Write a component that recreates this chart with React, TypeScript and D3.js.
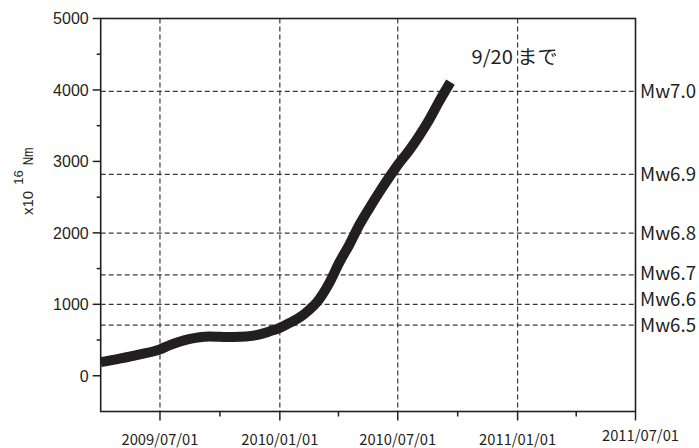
import React from "react";
import * as d3 from "d3";

// ---- data ----
const dates = [
  "2009-04-01", "2009-04-30", "2009-05-31", "2009-07-01", "2009-07-16", "2009-08-01",
  "2009-08-16", "2009-08-31", "2009-09-15", "2009-10-01", "2009-10-16", "2009-10-31",
  "2009-11-16", "2009-12-01", "2009-12-16", "2010-01-01", "2010-01-16", "2010-02-01",
  "2010-02-16", "2010-02-27", "2010-03-18", "2010-04-02", "2010-04-18", "2010-05-03",
  "2010-05-18", "2010-06-02", "2010-06-18", "2010-07-01", "2010-07-19", "2010-08-03",
  "2010-08-18", "2010-09-02", "2010-09-20",
];
const moment = [
  190, 240, 300, 370, 430, 480,
  515, 540, 548, 545, 542, 545,
  555, 580, 620, 670, 740, 820,
  930, 1030, 1300, 1580, 1840, 2110,
  2340, 2560, 2780, 2950, 3160, 3360,
  3580, 3830, 4110,
];
const xTickDates = ["2009-07-01", "2010-01-01", "2010-07-01", "2011-01-01", "2011-07-01"];
const xTickLabels = ["2009/07/01", "2010/01/01", "2010/07/01", "2011/01/01", "2011/07/01"];
const xMinorDates = ["2009-10-01", "2010-04-01", "2010-10-01", "2011-04-01"];
const yTicks = [0, 1000, 2000, 3000, 4000, 5000];
const yMinor = [500, 1500, 2500, 3500, 4500];
const mwLabels = ["Mw7.0", "Mw6.9", "Mw6.8", "Mw6.7", "Mw6.6", "Mw6.5"];
const mwValues = [3981, 2818, 1995, 1413, 1000, 708];
const endNote = "9/20 まで";

const parse = d3.timeParse("%Y-%m-%d");

export default function App() {
  const W = 699, H = 448;
  const left = 100.7, right = 635.5, top = 18.5, bottom = 411.5;
  const x = d3.scaleTime()
    .domain([parse("2009-04-01")!, parse("2011-07-01")!])
    .range([left, right]);
  const y = d3.scaleLinear().domain([-500, 5000]).range([bottom, top]);

  const pts = dates.map((d, i) => [parse(d)!, moment[i]] as [Date, number]);
  const line = d3.line<[Date, number]>()
    .x((d) => x(d[0]))
    .y((d) => y(d[1]))
    .curve(d3.curveMonotoneX);

  const ink = "#231f20";
  const dashCol = "#3a3a3a";
  const jp = "'Noto Sans CJK JP', 'Noto Sans', sans-serif";
  const sans = "'Liberation Sans', Arial, sans-serif";

  // Mw label placement: avoid overlap, working from bottom up
  const labelY: number[] = new Array(mwValues.length);
  const gap = 26;
  for (let i = mwValues.length - 1; i >= 0; i--) {
    const target = y(mwValues[i]);
    labelY[i] = i === mwValues.length - 1 ? target : Math.min(target, labelY[i + 1] - gap);
  }

  const lastEnd = pts[pts.length - 1];

  return (
    <svg width={W} height={H} style={{ position: "absolute", left: 0, top: 0, background: "#fff" }}>
      <rect x={0} y={0} width={W} height={H} fill="#fff" />
      {/* vertical dashed grid */}
      {xTickDates.slice(0, 4).map((d) => (
        <line key={d} x1={x(parse(d)!)} x2={x(parse(d)!)} y1={top} y2={bottom}
          stroke={dashCol} strokeWidth={1.2} strokeDasharray="5,3" />
      ))}
      {/* Mw dashed lines */}
      {mwValues.map((v) => (
        <line key={v} x1={left} x2={right} y1={y(v)} y2={y(v)}
          stroke={dashCol} strokeWidth={1.2} strokeDasharray="5,3" />
      ))}
      {/* curve */}
      <path d={line(pts) || ""} fill="none" stroke={ink} strokeWidth={10} strokeLinecap="butt" strokeLinejoin="round" />
      {/* frame */}
      <rect x={left} y={top} width={right - left} height={bottom - top} fill="none" stroke={ink} strokeWidth={1.6} />
      {/* y ticks */}
      {yTicks.map((t) => (
        <g key={t}>
          <line x1={left - 8} x2={left} y1={y(t)} y2={y(t)} stroke={ink} strokeWidth={1.5} />
          <text x={left - 12} y={y(t)} dy="0.36em" textAnchor="end" fontFamily={sans} fontSize={16} fill={ink}>{t}</text>
        </g>
      ))}
      {yMinor.map((t) => (
        <line key={t} x1={left - 4} x2={left} y1={y(t)} y2={y(t)} stroke={ink} strokeWidth={1.5} />
      ))}
      {/* x ticks */}
      {xTickDates.map((d, i) => {
        const px = x(parse(d)!);
        const last = i === xTickDates.length - 1;
        return (
          <g key={d}>
            <line x1={px} x2={px} y1={bottom} y2={bottom + 9} stroke={ink} strokeWidth={1.5} />
            <text x={px + (last ? 5 : 0)} y={last ? 441 : 444.5} textAnchor="middle" fontFamily={jp}
              fontSize={15} fill={ink} textLength={77} lengthAdjust="spacingAndGlyphs">{xTickLabels[i]}</text>
          </g>
        );
      })}
      {xMinorDates.map((d) => (
        <line key={d} x1={x(parse(d)!)} x2={x(parse(d)!)} y1={bottom} y2={bottom + 5} stroke={ink} strokeWidth={1.5} />
      ))}
      {/* Mw labels */}
      {mwLabels.map((l, i) => (
        <text key={l} x={640} y={labelY[i]} dy="0.36em" fontFamily={jp} fontSize={18.5} fill={ink}
          textLength={56} lengthAdjust="spacingAndGlyphs">{l}</text>
      ))}
      {/* end note */}
      <text x={x(lastEnd[0]) + 21} y={64} fontFamily={jp} fontSize={19} fill={ink}
        textLength={86} lengthAdjust="spacingAndGlyphs">{endNote}</text>
      {/* y axis title */}
      <text transform="translate(33,215) rotate(-90)" fontFamily={sans} fontSize={15} fill={ink}>
        x10
        <tspan dx={6} dy={-10} fontSize={13}>16</tspan>
        <tspan dx={5} dy={10} fontSize={14} textLength={18} lengthAdjust="spacingAndGlyphs">Nm</tspan>
      </text>
    </svg>
  );
}
